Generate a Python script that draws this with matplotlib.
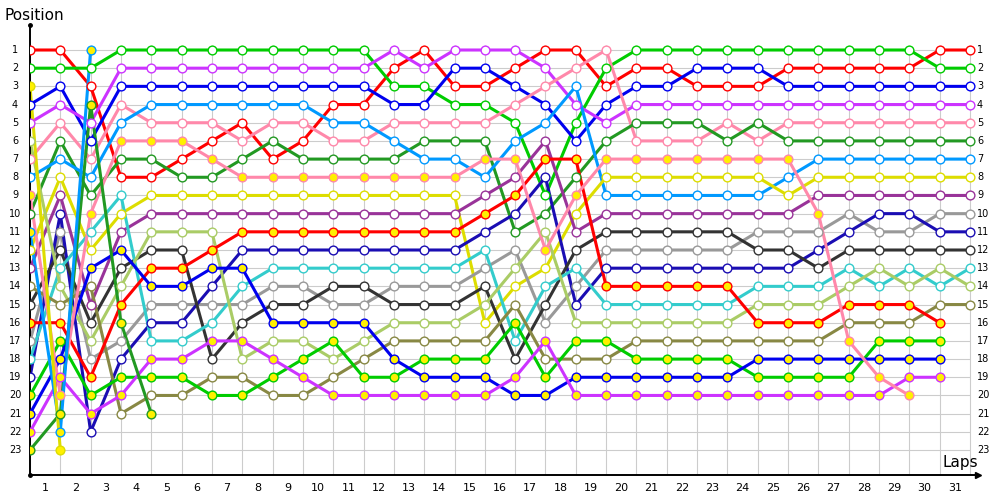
import matplotlib
matplotlib.use("Agg")
import matplotlib.pyplot as plt

# ---------------- data ----------------
laps = list(range(0, 32))                 # lap 0 = grid, then end of each lap
lap_labels = [str(k) for k in range(1, 32)]
positions = list(range(1, 24))

red_a = [1,1,3,8,8,7,6,5,7,6,4,4,2,1,3,3,2,1,1,3,2,2,3,3,3,2,2,2,2,2,1,1]
green_a = [2,2,2,1,1,1,1,1,1,1,1,1,3,3,4,4,5,9,5,2,1,1,1,1,1,1,1,1,1,1,2,2]
blue_a = [4,3,6,3,3,3,3,3,3,3,3,3,4,4,2,2,3,4,6,4,3,3,2,2,2,3,3,3,3,3,3,3]
magenta_a = [5,4,5,2,2,2,2,2,2,2,2,2,1,2,1,1,1,2,4,5,4,4,4,4,4,4,4,4,4,4,4,4]
pink_a = [7,5,7,4,5,5,5,6,5,5,6,6,5,5,5,5,4,3,2,1,6,6,6,5,6,5,5,5,5,5,5,5]
dkgreen_a = [10,6,9,7,7,8,8,7,6,7,7,7,7,6,6,6,11,10,8,6,5,5,5,6,5,6,6,6,6,6,6,6]
ltblue_a = [8,7,8,5,4,4,4,4,4,4,5,5,6,7,7,8,6,5,3,9,9,9,9,9,9,8,7,7,7,7,7,7]
yellow_a = [12,8,12,10,9,9,9,9,9,9,9,9,9,9,9,16,14,13,10,8,8,8,8,8,8,9,8,8,8,8,8,8]
purple_a = [13,9,15,11,10,10,10,10,10,10,10,10,10,10,10,9,8,6,11,10,10,10,10,10,10,10,9,9,9,9,9,9]
grey_a = [17,11,18,17,15,15,15,15,14,14,15,15,14,14,14,13,12,16,14,12,12,12,12,12,11,11,11,10,11,11,10,10]
navy_a = [19,10,22,18,16,16,14,12,12,12,12,12,12,12,12,11,10,8,15,13,13,13,13,13,13,13,12,11,10,10,11,11]
dkgrey_a = [15,12,16,13,12,12,18,16,15,15,14,14,15,15,15,14,18,15,12,11,11,11,11,11,12,12,13,12,12,12,12,12]
cyan_a = [18,13,11,9,17,17,16,14,13,13,13,13,13,13,13,12,17,14,13,15,15,15,15,15,14,14,14,13,14,13,14,13]
ltolive_a = [6,14,17,14,11,11,11,18,17,17,18,17,16,16,16,15,13,11,16,16,16,16,16,16,15,15,15,14,13,14,13,14]
olive_a = [14,15,14,21,20,20,19,19,20,20,19,18,17,17,17,17,15,18,18,18,17,17,17,17,17,17,17,16,16,16,15,15]
red_b = [16,16,19,15,13,13,12,11,11,11,11,11,11,11,11,10,9,7,7,14,14,14,14,14,16,16,16,15,15,15,16]
green_b = [20,17,20,19,19,19,20,20,19,18,17,19,19,18,18,18,16,19,17,17,18,18,18,18,19,19,19,19,17,17,17]
blue_b = [21,18,13,12,14,14,13,13,16,16,16,16,18,19,19,19,20,20,19,19,19,19,19,19,18,18,18,18,18,18,18]
magenta_b = [22,19,21,20,18,18,17,17,18,19,20,20,20,20,20,20,19,17,20,20,20,20,20,20,20,20,20,20,20,19,19]
pink_b = [9,20,10,6,6,6,7,8,8,8,8,8,8,8,8,7,7,12,9,7,7,7,7,7,7,7,10,17,19,20]
dkgreen_b = [23,21,4,16,21]
ltblue_b = [11,22,1]
yellow_b = [3,23]

series = [red_a, green_a, blue_a, magenta_a, pink_a, dkgreen_a, ltblue_a, yellow_a,
          purple_a, grey_a, navy_a, dkgrey_a, cyan_a, ltolive_a, olive_a,
          red_b, green_b, blue_b, magenta_b, pink_b, dkgreen_b, ltblue_b, yellow_b]

# ---------------- style ----------------
line_colors = ["#ff0000", "#00cc00", "#0000ee", "#cc33ff", "#ff88aa", "#229922", "#0099ff", "#dddd00",
               "#993399", "#999999", "#1a0db3", "#333333", "#33cccc", "#aacc66", "#888844",
               "#ff0000", "#00cc00", "#0000ee", "#cc33ff", "#ff88aa", "#229922", "#0099ff", "#dddd00"]
face_colors = ["white"] * 15 + ["#fff000"] * 8

fig = plt.figure(figsize=(10, 5), dpi=100)
ppl = 940.0 / 31.0          # pixels per lap
ppp = 400.0 / 22.0          # pixels per position
ax = fig.add_axes([0.03, 0.05, 0.9555, 0.9])
xmax = 955.5 / ppl
ytop = 1 - 25.0 / ppp
ybot = 1 + 425.0 / ppp
ax.set_xlim(0, xmax)
ax.set_ylim(ybot, ytop)

# grid
grid_top = 1 - 5.0 / ppp
ax.vlines(laps, grid_top, ybot, color="#cccccc", lw=0.8, zorder=1)
ax.hlines(positions, 0, 31, color="#cccccc", lw=0.8, zorder=1)

# lines then markers
for vals, col in zip(series, line_colors):
    xs = laps[:len(vals)]
    ax.plot(xs, vals, color=col, lw=2.2, zorder=2, solid_capstyle="round", solid_joinstyle="round")
for vals, col, fc in zip(series, line_colors, face_colors):
    xs = laps[:len(vals)]
    ax.plot(xs, vals, ls="none", marker="o", ms=6.3, mfc=fc, mec=col, mew=1.0, zorder=3)

# axes styling
for s in ["top", "right"]:
    ax.spines[s].set_visible(False)
ax.spines["left"].set_linewidth(1.4)
ax.spines["bottom"].set_linewidth(1.4)
ax.spines["bottom"].set_bounds(0, 31.25)
ax.set_xticks([])
ax.set_yticks([])
ax.plot([31.25], [ybot], marker=">", ms=5, color="black", clip_on=False, zorder=5)
ax.plot([0, 0], [ytop, ybot], ls="none", marker="o", ms=2.5, color="black", clip_on=False, zorder=5)

# position labels left and right
for p in positions:
    ax.text(-15.0 / ppl, p, str(p), ha="center", va="center", fontsize=7, clip_on=False)
    ax.text(31.23, p, str(p), ha="left", va="center", fontsize=7, clip_on=False)

# lap labels
for k, lab in enumerate(lap_labels, start=1):
    ax.text(k - 0.5, ybot + 13.0 / ppp, lab, ha="center", va="center", fontsize=8, clip_on=False)

fig.text(0.005, 1 - 16.0 / 500, "Position", fontsize=11, ha="left", va="center")
fig.text(0.943, 1 - 463.0 / 500, "Laps", fontsize=11, ha="left", va="center")

fig.savefig("out.png", dpi=100)
